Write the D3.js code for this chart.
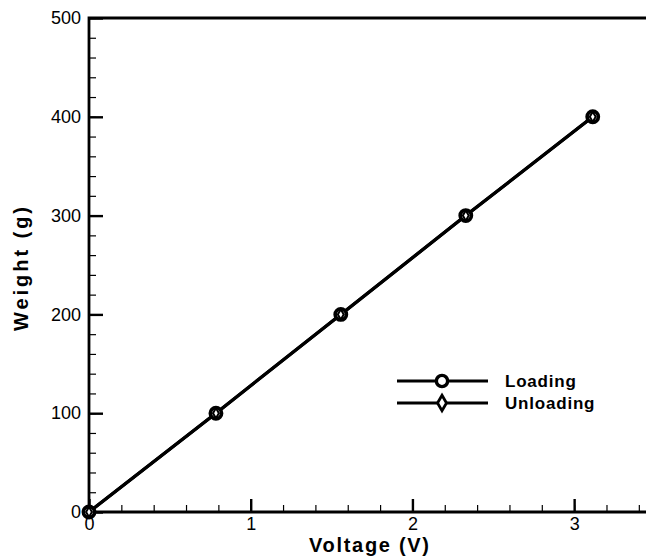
<!DOCTYPE html>
<html>
<head>
<meta charset="utf-8">
<script src="https://cdn.jsdelivr.net/npm/d3@7"></script>
<style>
  body { margin: 0; background: #fff; }
  svg { display: block; font-family: "Liberation Sans", Arial, sans-serif; }
</style>
</head>
<body>
<svg id="canvas" width="646" height="559"></svg>
<script>
// values
let voltage = [0, 0.785, 1.557, 2.33, 3.115]
let weightLoading = [0, 100, 200, 300, 400]
let weightUnloading = [0, 100, 200, 300, 400]
let seriesNames = ['Loading', 'Unloading']
let xMajor = [0, 1, 2, 3]
let yMajor = [0, 100, 200, 300, 400, 500]

let canvas = d3.select('#canvas')

let x = d3.scaleLinear().domain([0, 3.5]).range([89, 655])
let y = d3.scaleLinear().domain([0, 500]).range([512, 18])

let loading = voltage.map((v, i) => [v, weightLoading[i]])
let unloading = voltage.map((v, i) => [v, weightUnloading[i]])

// minor ticks
canvas.append('g')
      .attr('transform', 'translate(0,' + y(0) + ')')
      .call(d3.axisBottom(x).tickValues(d3.range(0, 3.5, 0.2)).tickSize(-7).tickFormat(''))
      .call(g => g.select('.domain').remove())
      .call(g => g.selectAll('line').attr('stroke-width', 1.2))

canvas.append('g')
      .attr('transform', 'translate(' + x(0) + ',0)')
      .call(d3.axisLeft(y).tickValues(d3.range(0, 501, 20)).tickSize(-7).tickFormat(''))
      .call(g => g.select('.domain').remove())
      .call(g => g.selectAll('line').attr('stroke-width', 1.2))

// major ticks with labels
let xAxis = canvas.append('g')
      .attr('transform', 'translate(0,' + y(0) + ')')
      .call(d3.axisBottom(x).tickValues(xMajor).tickSize(-13).tickPadding(5).tickFormat(d3.format('d')))
xAxis.select('.domain').remove()
xAxis.selectAll('line').attr('stroke-width', 2.4)
xAxis.selectAll('text').attr('font-size', 18).attr('fill', '#000')
     .attr('font-family', '"Liberation Sans", Arial, sans-serif')

let yAxis = canvas.append('g')
      .attr('transform', 'translate(' + x(0) + ',0)')
      .call(d3.axisLeft(y).tickValues(yMajor).tickSize(-14).tickPadding(8).tickFormat(d3.format('d')))
yAxis.select('.domain').remove()
yAxis.selectAll('line').attr('stroke-width', 2.4)
yAxis.selectAll('text').attr('font-size', 18).attr('fill', '#000')
     .attr('font-family', '"Liberation Sans", Arial, sans-serif')

// frame
canvas.append('path')
      .attr('d', 'M' + x(3.5) + ',' + y(500) + 'H' + x(0) + 'V' + y(0) + 'H' + x(3.5))
      .attr('fill', 'none')
      .attr('stroke', '#000')
      .attr('stroke-width', 2.8)

// data lines
let line = d3.line().x(d => x(d[0])).y(d => y(d[1]))

canvas.append('path')
      .datum(unloading)
      .attr('d', line)
      .attr('fill', 'none')
      .attr('stroke', '#000')
      .attr('stroke-width', 3.2)

canvas.append('path')
      .datum(loading)
      .attr('d', line)
      .attr('fill', 'none')
      .attr('stroke', '#000')
      .attr('stroke-width', 3.2)

let circle = d3.symbol().type(d3.symbolCircle).size(100)
let diamond = d3.symbol().type(d3.symbolDiamond).size(30)

canvas.selectAll('.load')
      .data(loading)
      .enter()
      .append('path')
      .attr('class', 'load')
      .attr('d', circle)
      .attr('transform', d => 'translate(' + x(d[0]) + ',' + y(d[1]) + ')')
      .attr('fill', '#fff')
      .attr('stroke', '#000')
      .attr('stroke-width', 3.6)

canvas.selectAll('.unload')
      .data(unloading)
      .enter()
      .append('path')
      .attr('class', 'unload')
      .attr('d', diamond)
      .attr('transform', d => 'translate(' + x(d[0]) + ',' + y(d[1]) + ')')
      .attr('fill', 'none')
      .attr('stroke', '#000')
      .attr('stroke-width', 2)

// axis titles
canvas.append('text')
      .attr('x', 369)
      .attr('y', 552)
      .attr('text-anchor', 'middle')
      .attr('font-size', 20)
      .attr('font-weight', 'bold')
      .attr('textLength', 120)
      .text('Voltage (V)')

canvas.append('text')
      .attr('transform', 'translate(28,269) rotate(-90)')
      .attr('text-anchor', 'middle')
      .attr('font-size', 20)
      .attr('font-weight', 'bold')
      .attr('textLength', 124)
      .text('Weight (g)')

// legend
let legendY = [381, 403]
let legendSym = [d3.symbol().type(d3.symbolCircle).size(100), d3.symbol().type(d3.symbolDiamond).size(70)]
seriesNames.forEach((name, i) => {
    let g = canvas.append('g')
    g.append('line')
     .attr('x1', 397).attr('x2', 488)
     .attr('y1', legendY[i]).attr('y2', legendY[i])
     .attr('stroke', '#000')
     .attr('stroke-width', 3)
    g.append('path')
     .attr('d', legendSym[i])
     .attr('transform', 'translate(442,' + legendY[i] + ')')
     .attr('fill', '#fff')
     .attr('stroke', '#000')
     .attr('stroke-width', i === 0 ? 3.4 : 2.8)
    g.append('text')
     .attr('x', 505)
     .attr('y', legendY[i] + 6)
     .attr('font-size', 17)
     .attr('font-weight', 'bold')
     .attr('letter-spacing', 0.8)
     .text(name)
})
</script>
</body>
</html>
